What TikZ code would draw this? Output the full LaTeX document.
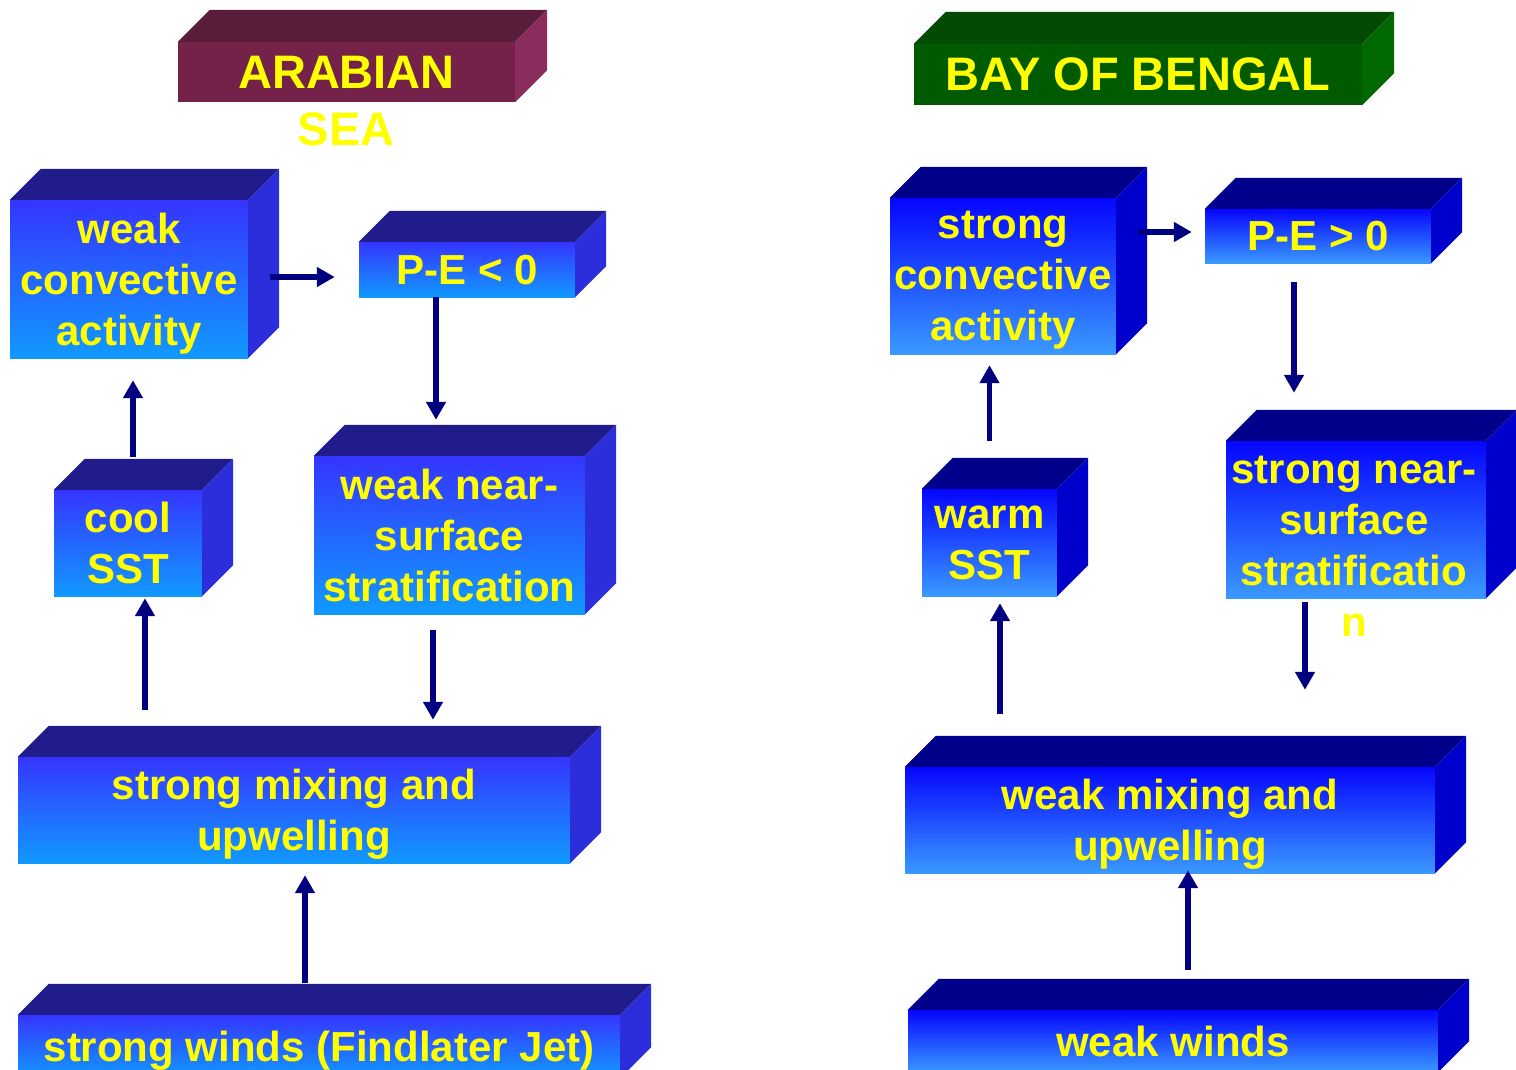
\documentclass[tikz,border=0pt]{standalone}
\usepackage{fontspec}
\setmainfont{Liberation Sans}
\usetikzlibrary{arrows.meta, calc, positioning}

\definecolor{arFrontA}{HTML}{3535FF}
\definecolor{arFrontB}{HTML}{1199FF}
\definecolor{arTop}{HTML}{201C8C}
\definecolor{arSide}{HTML}{2D2EDB}
\definecolor{bbFrontA}{HTML}{0505FF}
\definecolor{bbFrontB}{HTML}{3A99FF}
\definecolor{bbTop}{HTML}{00008B}
\definecolor{bbSide}{HTML}{0000CD}
\definecolor{arTitle}{HTML}{74224A}
\definecolor{arTitleTop}{HTML}{5A1E3C}
\definecolor{arTitleSide}{HTML}{8A2C5C}
\definecolor{bbTitle}{HTML}{005A00}
\definecolor{bbTitleTop}{HTML}{034B03}
\definecolor{bbTitleSide}{HTML}{006A00}
\definecolor{flowBlue}{HTML}{000080}
\definecolor{txtYellow}{HTML}{FFFF00}

\tikzstyle{boxText} = [text=txtYellow, align=center, text depth=-3pt, font=\fontsize{42}{51}\selectfont\bfseries]
\tikzstyle{arBox} = [boxText, inner sep=0, top color=arFrontA, bottom color=arFrontB]
\tikzstyle{bbBox} = [boxText, inner sep=0, top color=bbFrontA, bottom color=bbFrontB]
\tikzstyle{titleText} = [text=txtYellow, font=\fontsize{47}{56}\selectfont\bfseries]
\tikzstyle{flow} = [line width=5.5pt, draw=flowBlue, -{Triangle[length=18pt,width=19pt]}]

\begin{document}
\begin{tikzpicture}[x=1pt, y=-1pt]
  \useasboundingbox (0,0) rectangle (1516,1070);
  \clip (0,0) rectangle (1516,1070);

  % titles
  \node[titleText, fill=arTitle, minimum width=337pt, minimum height=60pt, inner sep=0] (arab) at (346.5,72) {ARABIAN};
  \node[titleText] (sea) at (346,129) {SEA};
  \node[titleText, fill=bbTitle, minimum width=448pt, minimum height=61pt, inner sep=0, text depth=-6pt] (bob) at (1138,74.5) {BAY OF BENGAL};

  % Arabian Sea boxes
  \node[arBox, minimum width=238pt, minimum height=158pt] (wca) at (129,279) {weak\\convective\\activity};
  \node[arBox, minimum width=216pt, minimum height=55pt] (pelt) at (467,269.5) {P-E < 0};
  \node[arBox, minimum width=148pt, minimum height=106pt] (cool) at (128,543) {cool\\SST};
  \node[arBox, minimum width=271pt, minimum height=158pt] (wns) at (449.5,535) {weak near-\\surface\\stratification};
  \node[arBox, minimum width=552pt, minimum height=106pt] (smu) at (294,810) {strong mixing and\\upwelling};
  \node[arBox, minimum width=602pt, minimum height=63pt] (swind) at (319,1046.5) {strong winds (Findlater Jet)};

  % Bay of Bengal boxes
  \node[bbBox, minimum width=226pt, minimum height=156pt, text depth=-8pt] (sca) at (1003,276) {strong\\convective\\activity};
  \node[bbBox, minimum width=226pt, minimum height=54pt] (pegt) at (1318,236) {P-E > 0};
  \node[bbBox, minimum width=135pt, minimum height=107pt] (warm) at (989.5,542.5) {warm\\SST};
  \node[bbBox, minimum width=260pt, minimum height=157pt] (sns) at (1356,519.5) {};
  \node[boxText] (snsTxt) at (1354,546) {strong near-\\surface\\stratificatio\\n};
  \node[bbBox, minimum width=530pt, minimum height=106pt] (wmu) at (1170,820) {weak mixing and\\upwelling};
  \node[bbBox, minimum width=530pt, minimum height=62pt] (wwind) at (1173,1041) {weak winds};

  % top and side faces of every box
  \foreach \n/\t/\s/\d in {arab/arTitleTop/arTitleSide/32, bob/bbTitleTop/bbTitleSide/32,
      wca/arTop/arSide/31, pelt/arTop/arSide/31, cool/arTop/arSide/31, wns/arTop/arSide/31,
      smu/arTop/arSide/31, swind/arTop/arSide/31,
      sca/bbTop/bbSide/31, pegt/bbTop/bbSide/31, warm/bbTop/bbSide/31, sns/bbTop/bbSide/31,
      wmu/bbTop/bbSide/31, wwind/bbTop/bbSide/31}{
    \fill[\t] (\n.north west) -- ++(\d,-\d) -- ($(\n.north east)+(\d,-\d)$) -- (\n.north east) -- cycle;
    \fill[\s] (\n.north east) -- ++(\d,-\d) -- ($(\n.south east)+(\d,-\d)$) -- (\n.south east) -- cycle;
  }

  % Arabian Sea arrows
  \draw[flow, shorten <=22pt, shorten >=24pt] ([yshift=2pt]wca.east) -- ([yshift=2pt]wca.east -| pelt.west);
  \draw[flow, shorten >=36pt] ([xshift=-31pt]pelt.south) -- ([xshift=-31pt]pelt.south |- wns.north);
  \draw[flow, shorten <=33pt, shorten >=22pt] ([xshift=5pt]cool.north) -- ([xshift=5pt]cool.north |- wca.south);
  \draw[flow, shorten <=47pt, shorten >=2pt] ([xshift=17pt]cool.south |- smu.north) -- ([xshift=17pt]cool.south);
  \draw[flow, shorten <=16pt, shorten >=37pt] ([xshift=-16.5pt]wns.south) -- ([xshift=-16.5pt]wns.south |- smu.north);
  \draw[flow, shorten <=32pt, shorten >=12pt] ([xshift=-14pt]swind.north) -- ([xshift=-14pt]swind.north |- smu.south);

  % Bay of Bengal arrows
  \draw[flow, shorten <=22pt, shorten >=13pt] ([yshift=4pt]pegt.west -| sca.east) -- ([yshift=4pt]pegt.west);
  \draw[flow, shorten <=19pt, shorten >=48pt] ([xshift=-24pt]pegt.south) -- ([xshift=-24pt]pegt.south |- sns.north);
  \draw[flow, shorten <=48pt, shorten >=11pt] (warm.north) -- (warm.north |- sca.south);
  \draw[flow, shorten <=53pt, shorten >=7pt] ([xshift=10.5pt]warm.south |- wmu.north) -- ([xshift=10.5pt]warm.south);
  \draw[flow, shorten <=4pt, shorten >=77pt] ([xshift=-51pt]sns.south) -- ([xshift=-51pt]sns.south |- wmu.north);
  \draw[flow, shorten <=40pt, shorten >=-3pt] ([xshift=15pt]wwind.north) -- ([xshift=15pt]wwind.north |- wmu.south);
\end{tikzpicture}
\end{document}
